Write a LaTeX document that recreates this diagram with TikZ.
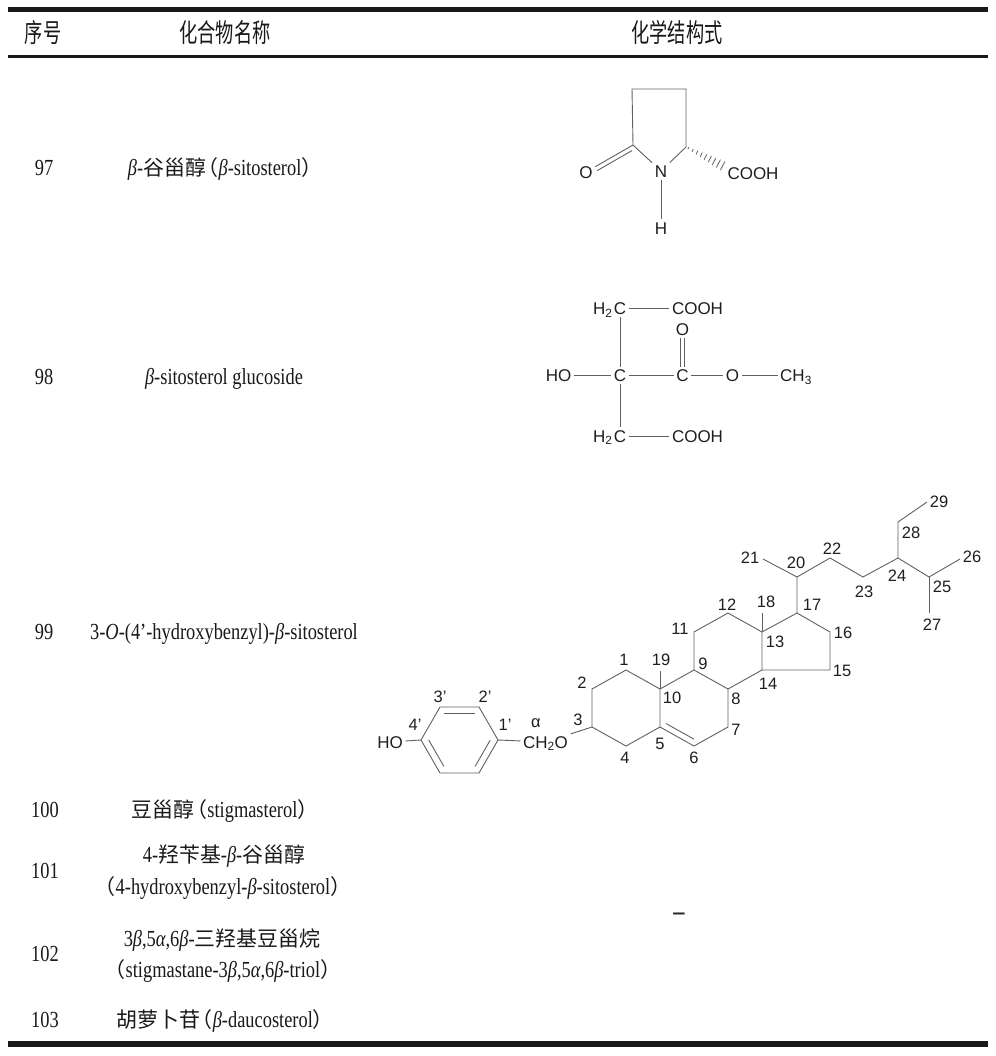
\documentclass[tikz,border=0pt]{standalone}
\usepackage{fontspec}
\setmainfont{Liberation Serif}[FakeStretch=0.8]
\newfontfamily\cjk{Noto Sans CJK SC}[Scale=0.91]
\newfontfamily\cjkhead{Noto Sans CJK SC}[FakeStretch=0.7]
\newfontfamily\chemf{Liberation Sans}
\usetikzlibrary{calc}
\newcommand{\zlp}{\makebox[0.55em][r]{\cjk （}}
\newcommand{\zrp}{\makebox[0.55em][l]{\cjk ）}}
\begin{document}
\begin{tikzpicture}[x=1pt,y=-1pt,
  bond/.style={draw=black!62, line width=0.9pt},
  atom/.style={font=\chemf\fontsize{17}{17}\selectfont, inner sep=2.5pt, text height=12.2pt, text depth=0pt, text=black!88},
  lab/.style={font=\chemf\fontsize{16.5}{16.5}\selectfont, inner sep=0pt, text height=11.8pt, text depth=0pt, text=black!88},
  rowt/.style={font=\fontsize{23}{27}\selectfont, inner sep=0pt, text height=15.5pt, text depth=0pt, text=black!90},
  head/.style={font=\cjkhead\fontsize{26}{28}\selectfont, inner sep=0pt, text=black!90},
  tablerule/.style={draw=black!90}
]
\fill[white] (0,0) rectangle (995,1056);
\useasboundingbox (0,0) rectangle (995,1056);

% table rules
\draw[tablerule, line width=5.5pt] (8,9.5) -- (988,9.5);
\draw[tablerule, line width=3pt] (8,57) -- (988,57);
\draw[tablerule, line width=5.5pt] (8,1044) -- (988,1044);

% header
\node[head] (h1) at (43,33) {序号};
\node[head] (h2) at (225,33) {化合物名称};
\node[head] (h3) at (677,33) {化学结构式};

% numbers
\node[rowt] (n97) at (44,168) {97};
\node[rowt] (n98) at (44,377) {98};
\node[rowt] (n99) at (44,632) {99};
\node[rowt] (n100) at (45,810) {100};
\node[rowt] (n101) at (45,871) {101};
\node[rowt] (n102) at (45,954) {102};
\node[rowt] (n103) at (45,1020) {103};

% names
\node[rowt] (t97) at (221,168) {\textit{β}-{\cjk 谷甾醇}\zlp\textit{β}-sitosterol\zrp};
\node[rowt] (t98) at (224,377) {\textit{β}-sitosterol glucoside};
\node[rowt] (t99) at (224,632) {3-\textit{O}-(4’-hydroxybenzyl)-\textit{β}-sitosterol};
\node[rowt] (t100) at (221,810) {{\cjk 豆甾醇}\zlp stigmasterol\zrp};
\node[rowt] (t101a) at (224,855) {4-{\cjk 羟苄基}-\textit{β}-{\cjk 谷甾醇}};
\node[rowt] (t101b) at (223,887) {\zlp 4-hydroxybenzyl-\textit{β}-sitosterol\zrp};
\node[rowt] (t102a) at (222,939) {3\textit{β},5\textit{α},6\textit{β}-{\cjk 三羟基豆甾烷}};
\node[rowt] (t102b) at (223,970) {\zlp stigmastane-3\textit{β},5\textit{α},6\textit{β}-triol\zrp};
\node[rowt] (t103) at (221,1020) {{\cjk 胡萝卜苷}\zlp\textit{β}-daucosterol\zrp};

% dash
\node[font=\bfseries\fontsize{28}{28}\selectfont, anchor=base, inner sep=0pt, text=black!85] (dash) at (679,920) {–};

% ---------- structure 97 ----------
\coordinate (p1) at (632,89);
\coordinate (p2) at (686,89);
\coordinate (p3) at (686,147);
\coordinate (p5) at (633,145);
\node[atom] (pN) at (661,171) {N};
\node[atom] (pH) at (661,228) {H};
\node[atom] (pO) at (586,172) {O};
\node[atom] (pCOOH) at (753,173) {COOH};
\coordinate (pw) at (725,167);
\draw[bond] (p5) -- (p1) -- (p2) -- (p3) -- (pN) -- (p5);
\draw[bond] (pN) -- (pH);
\draw[bond] (p5) -- (pO);
\draw[bond] ($(p5)!0.06!(pO)+(1.8,4)$) -- ($(p5)!0.8!(pO)+(1.8,4)$);
\foreach \i in {0,...,8} {
  \pgfmathsetmacro\tt{0.06+0.11*\i}
  \pgfmathsetmacro\ww{0.8+4.4*\tt}
  \draw[bond, line width=0.8pt] ($(p3)!\tt!(pw)!\ww pt!90:(pw)$) -- ($(p3)!\tt!(pw)!\ww pt!-90:(pw)$);
}

% ---------- structure 98 ----------
\node[atom] (qHO) at (558.5,375.5) {HO};
\node[atom] (qC) at (620,375.5) {C};
\node[atom] (qCc) at (682.5,375.5) {C};
\node[atom] (qOe) at (732.5,375.5) {O};
\node[atom, anchor=west] (qMe) at (777.5,375.5) {CH\textsubscript{3}};
\node[atom] (qOc) at (682.5,329) {O};
\node[atom] (qCt) at (620,308.5) {C};
\node[atom, anchor=east, inner sep=0pt] (qHt) at ([xshift=1.5pt]qCt.west) {H\textsubscript{2}};
\node[atom] (qCOt) at (697.5,308.5) {COOH};
\node[atom] (qCb) at (620,436) {C};
\node[atom, anchor=east, inner sep=0pt] (qHb) at ([xshift=1.5pt]qCb.west) {H\textsubscript{2}};
\node[atom] (qCOb) at (697.5,436) {COOH};
\draw[bond] (qHO) -- (qC) -- (qCc) -- (qOe) -- (qMe);
\draw[bond] (qCt) -- (qC) -- (qCb);
\draw[bond] (qCt) -- (qCOt);
\draw[bond] (qCb) -- (qCOb);
\draw[bond] ([xshift=-2pt]qOc.south) -- ([xshift=-2pt]qCc.north);
\draw[bond] ([xshift=2pt]qOc.south) -- ([xshift=2pt]qCc.north);

% ---------- structure 99 ----------
\coordinate (bz) at (459.5,740);
\coordinate (B1) at (421,740);
\coordinate (B2) at (440,707);
\coordinate (B3) at (479,707);
\coordinate (B4) at (498,740);
\coordinate (B5) at (479,773);
\coordinate (B6) at (440,773);
\draw[bond] (B1) -- (B2) -- (B3) -- (B4) -- (B5) -- (B6) -- cycle;
\draw[bond] ($(bz)!0.8!(B2)$) -- ($(bz)!0.8!(B3)$);
\draw[bond] ($(bz)!0.8!(B1)$) -- ($(bz)!0.8!(B6)$);
\draw[bond] ($(bz)!0.8!(B4)$) -- ($(bz)!0.8!(B5)$);
\node[atom] (hoB) at (390,742) {HO};
\node[atom] (ch2o) at (545.5,742) {CH\textsubscript{2}O};
\draw[bond] (hoB) -- (B1);
\draw[bond] (B4) -- (ch2o);

\coordinate (C1) at (626,670);
\coordinate (C2) at (592,689);
\coordinate (C3) at (592,727);
\coordinate (C4) at (626,746);
\coordinate (C5) at (660,727);
\coordinate (C6) at (694,746);
\coordinate (C7) at (728,727);
\coordinate (C8) at (728,689);
\coordinate (C9) at (694,670);
\coordinate (C10) at (660,689);
\coordinate (C11) at (694,632);
\coordinate (C12) at (728,613);
\coordinate (C13) at (762,632);
\coordinate (C14) at (762,670);
\coordinate (C15) at (830,670);
\coordinate (C16) at (830,632);
\coordinate (C17) at (797,613);
\coordinate (C18) at (762,613);
\coordinate (C19) at (660,671);
\coordinate (C20) at (797,577);
\coordinate (C21) at (763,559);
\coordinate (C22) at (830,558);
\coordinate (C23) at (863,577);
\coordinate (C24) at (898,558);
\coordinate (C25) at (929,577);
\coordinate (C26) at (960,559);
\coordinate (C27) at (929,613);
\coordinate (C28) at (898,522);
\coordinate (C29) at (927,502);
\coordinate (cB) at (694,708);

\draw[bond] (ch2o) -- (C3);
\draw[bond] (C3) -- (C2) -- (C1) -- (C10) -- (C5) -- (C4) -- (C3);
\draw[bond] (C10) -- (C9) -- (C8) -- (C7) -- (C6) -- (C5);
\draw[bond] ($(cB)!0.82!(C5)$) -- ($(cB)!0.82!(C6)$);
\draw[bond] (C9) -- (C11) -- (C12) -- (C13) -- (C14) -- (C8);
\draw[bond] (C13) -- (C17) -- (C16) -- (C15) -- (C14);
\draw[bond] (C10) -- (C19);
\draw[bond] (C13) -- (C18);
\draw[bond] (C17) -- (C20) -- (C21);
\draw[bond] (C20) -- (C22) -- (C23) -- (C24) -- (C28) -- (C29);
\draw[bond] (C24) -- (C25) -- (C26);
\draw[bond] (C25) -- (C27);

% labels
\node[lab] (l4p) at (415,725) {4’};
\node[lab] (l3p) at (440,697) {3’};
\node[lab] (l2p) at (485,697) {2’};
\node[lab] (l1p) at (505,725) {1’};
\node[lab] (lal) at (536,722) {α};
\node[lab] (l1) at (624,660) {1};
\node[lab] (l2) at (582,683) {2};
\node[lab] (l3) at (578,720) {3};
\node[lab] (l4) at (625,758) {4};
\node[lab] (l5) at (660,744) {5};
\node[lab] (l6) at (694,758) {6};
\node[lab] (l7) at (736,730) {7};
\node[lab] (l8) at (736,699) {8};
\node[lab] (l9) at (703,664) {9};
\node[lab] (l10) at (672,698) {10};
\node[lab] (l11) at (680,629) {11};
\node[lab] (l12) at (727,605) {12};
\node[lab] (l13) at (775,642) {13};
\node[lab] (l14) at (768,684) {14};
\node[lab] (l15) at (842,671) {15};
\node[lab] (l16) at (843,633) {16};
\node[lab] (l17) at (812,605) {17};
\node[lab] (l18) at (766,602) {18};
\node[lab] (l19) at (661,660) {19};
\node[lab] (l20) at (796,563) {20};
\node[lab] (l21) at (750,558) {21};
\node[lab] (l22) at (832,549) {22};
\node[lab] (l23) at (864,592) {23};
\node[lab] (l24) at (897,576) {24};
\node[lab] (l25) at (942,587) {25};
\node[lab] (l26) at (972,557) {26};
\node[lab] (l27) at (932,625) {27};
\node[lab] (l28) at (911,533) {28};
\node[lab] (l29) at (939,502) {29};
\end{tikzpicture}
\end{document}
